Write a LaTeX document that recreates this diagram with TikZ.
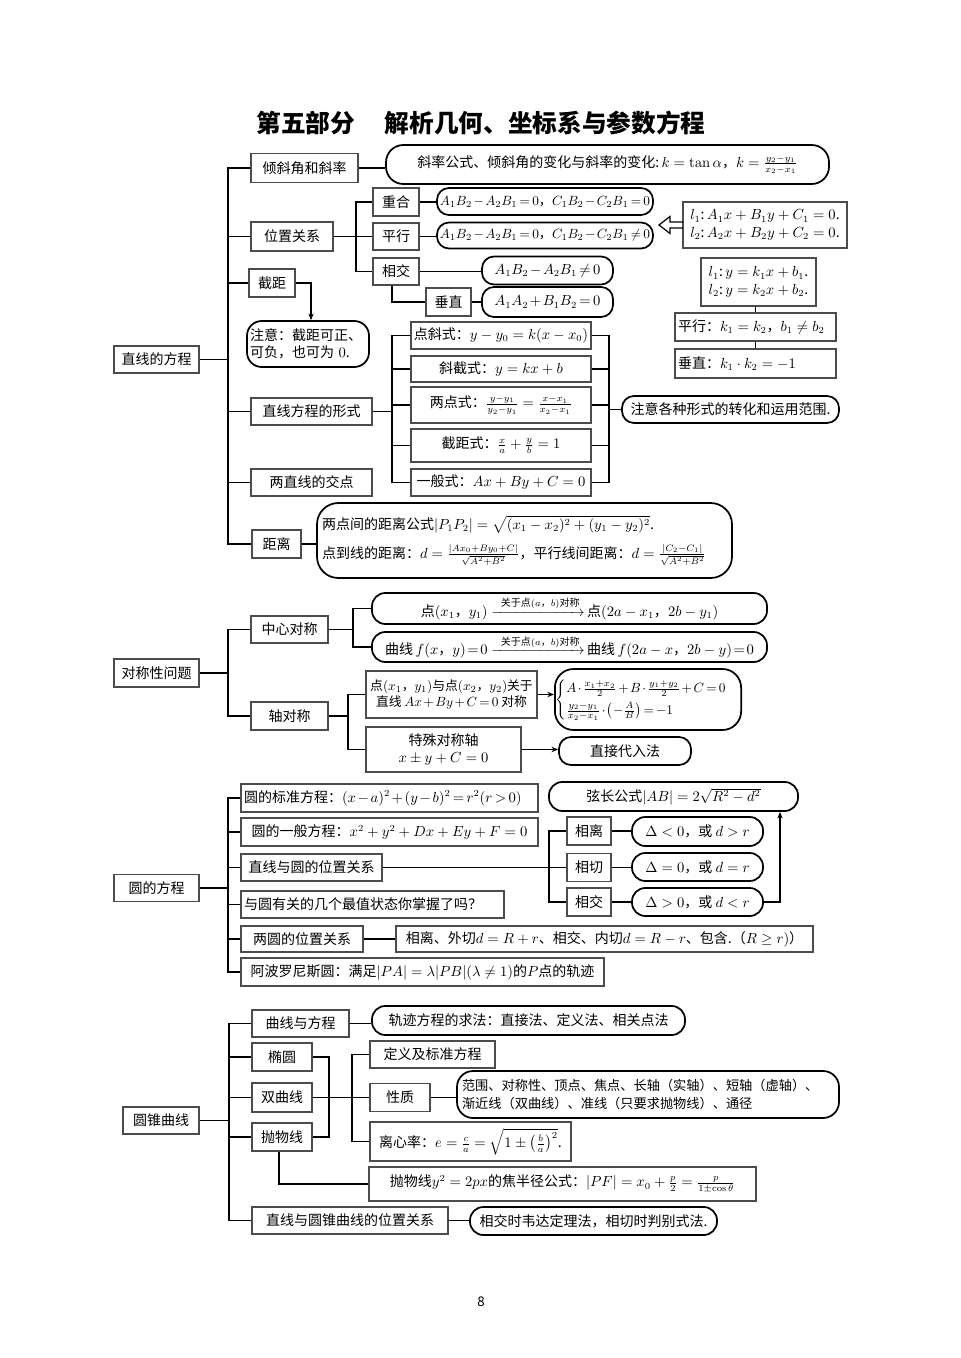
\documentclass[tikz,border=0pt]{standalone}
\usepackage{amsmath}
\usepackage[no-math]{fontspec}
\setmainfont{Noto Sans CJK SC}
\usetikzlibrary{arrows.meta}
\newcommand\fs{\fontsize{10.5}{13}\selectfont}
\newcommand\tm{\medmuskip=2mu plus 1mu\thickmuskip=3mu plus 2mu}
\newcommand\arrlab[1]{\xrightarrow{\hbox{\fontsize{7.5}{9}\selectfont #1}}}
\begin{document}
\begin{tikzpicture}[x=0.75pt,y=-0.75pt,
  every node/.style={font=\fs},
  wh/.style 2 args={minimum width=#1*0.75pt, minimum height=#2*0.75pt},
  sq/.style={draw=black!70, line width=0.8pt, inner sep=1.5pt},
  rd/.style={draw=black, line width=1.3pt, rounded corners=9pt, inner sep=1.5pt},
  lw/.style={text width=#1*0.75pt, align=left},
  ln/.style={line width=0.9pt},
  arr/.style={line width=0.9pt, -{Stealth[length=5pt,width=4pt]}}]
\fill[white] (0,0) rectangle (960,1358);
\useasboundingbox (0,0) rectangle (960,1358);

% title
\node[font=\fontsize{18.5}{22}\selectfont\bfseries] (title) at (481,123) {第五部分\hspace{1.2em}解析几何、坐标系与参数方程};

% ---------------- section 1
\node[sq,wh={85}{27}] (root1) at (156.5,359.5) {直线的方程};
\node[sq,wh={107}{29}] (qx) at (304.5,168) {倾斜角和斜率};
\node[rd,wh={443}{39},rounded corners=13pt] (qxf) at (607.5,164.5) {斜率公式、倾斜角的变化与斜率的变化:\,$k=\tan\alpha$，$k=\frac{y_2-y_1}{x_2-x_1}$};
\node[sq,wh={82}{29}] (wz) at (292,236.5) {位置关系};
\node[sq,wh={46}{28}] (ch) at (396,202) {重合};
\node[sq,wh={46}{27}] (pxg) at (396,236.5) {平行};
\node[sq,wh={46}{27}] (xj) at (396,271.5) {相交};
\node[sq,wh={45}{28}] (cz) at (448.5,302) {垂直};
\node[rd,wh={216}{27},font=\fontsize{9.8}{12}\selectfont\tm] (rch) at (545,201.5) {$A_1B_2-A_2B_1=0$，$C_1B_2-C_2B_1=0$};
\node[rd,wh={216}{26},font=\fontsize{9.8}{12}\selectfont\tm] (rpx) at (545,235.5) {$A_1B_2-A_2B_1=0$，$C_1B_2-C_2B_1\neq0$};
\node[rd,wh={131}{28},font=\fs\tm] (rxj) at (547.5,270.5) {$A_1B_2-A_2B_1\neq0$};
\node[rd,wh={131}{30},font=\fs\tm] (rcz) at (547.5,302) {$A_1A_2+B_1B_2=0$};
\node[sq,wh={164}{46},align=left] (lab) at (765,225) {$l_1$:\,$A_1x+B_1y+C_1=0$.\\$l_2$:\,$A_2x+B_2y+C_2=0$.};
\draw[line width=0.9pt] (683,222) -- (670,222) -- (670,216.5) -- (659,225) -- (670,233.5) -- (670,228) -- (683,228);
\node[sq,wh={115}{48},align=left] (kb) at (758.5,282) {$l_1$:\,$y=k_1x+b_1$.\\$l_2$:\,$y=k_2x+b_2$.};
\node[sq,wh={161}{28},lw=155] (kp) at (755.5,327) {平行：$k_1=k_2$，$b_1\neq b_2$};
\node[sq,wh={161}{29},lw=155] (kc) at (755.5,363.5) {垂直：$k_1\cdot k_2=-1$};
\node[sq,wh={46}{28}] (jj) at (272,283) {截距};
\node[rd,wh={122}{46},lw=116,rounded corners=11pt] (zy) at (308,344) {注意：截距可正、\\可负，也可为 $0$.};
\node[sq,wh={121}{27}] (xs) at (311.5,411.5) {直线方程的形式};
\node[sq,wh={180}{27}] (f1) at (501,335.5) {点斜式：$y-y_0=k(x-x_0)$};
\node[sq,wh={180}{26}] (f2) at (501,369) {斜截式：$y=kx+b$};
\node[sq,wh={180}{36}] (f3) at (501,405) {两点式：$\frac{y-y_1}{y_2-y_1}=\frac{x-x_1}{x_2-x_1}$};
\node[sq,wh={180}{33}] (f4) at (501,445.5) {截距式：$\frac{x}{a}+\frac{y}{b}=1$};
\node[sq,wh={180}{27}] (f5) at (501,482.5) {一般式：$Ax+By+C=0$};
\node[rd,wh={217}{27},inner sep=0.5pt] (zyx) at (730.5,409.5) {注意各种形式的转化和运用范围.};
\node[sq,wh={121}{27}] (jd) at (311.5,482.5) {两直线的交点};
\node[sq,wh={49}{28}] (jl) at (276.5,544) {距离};
\node[rd,wh={415}{75},lw=405,rounded corners=16pt] (rjl) at (524.5,540.5) {两点间的距离公式$|P_1P_2|=\sqrt{(x_1-x_2)^2+(y_1-y_2)^2}$.\\[7pt]点到线的距离：$d=\frac{|Ax_0+By_0+C|}{\sqrt{A^2+B^2}}$，平行线间距离：$d=\frac{|C_2-C_1|}{\sqrt{A^2+B^2}}$};

\coordinate (T1) at (228,0);
\draw[ln] (qx.west) -| (T1 |- jl.west) -- (jl.west);
\draw[ln] (root1.east) -- (root1.east -| T1);
\foreach \n in {wz,jj,xs,jd} \draw[ln] (\n.west) -- (\n.west -| T1);
\draw[ln] (qx.east) -- (qx.east -| qxf.west);
\coordinate (T2) at (356,0);
\draw[ln] (wz.east) -- (pxg.west);
\draw[ln] (ch.west) -| (T2 |- xj.west) -- (xj.west);
\draw[ln] (ch.east) -- (ch.east -| rch.west);
\draw[ln] (pxg.east) -- (pxg.east -| rpx.west);
\draw[ln] (xj.east) -- (xj.east -| rxj.west);
\draw[ln] (cz.east) -- (cz.east -| rcz.west);
\coordinate (T3) at (392,0);
\draw[ln] (xj.south -| T3) |- (cz.west);
\draw[ln] (kp.north) -- (kp.north |- kb.south);
\draw[ln] (kp.south) -- (kc.north);
\draw[arr] (jj.east) -| ([xshift=2.25pt]zy.north);
\draw[ln] (f1.west) -| (T3 |- f5.west) -- (f5.west);
\foreach \n in {f2,f3,f4} \draw[ln] (\n.west) -- (\n.west -| T3);
\draw[ln] (xs.east) -- (xs.east -| T3);
\coordinate (T5) at (609,0);
\draw[ln] (f1.east) -| (T5 |- f5.east) -- (f5.east);
\foreach \n in {f2,f3,f4} \draw[ln] (\n.east) -- (\n.east -| T5);
\draw[ln] (zyx.west) -- (zyx.west -| T5);
\draw[ln] (jl.east) -- (jl.east -| rjl.west);

% ---------------- section 2
\node[sq,wh={85}{28}] (root2) at (156.5,673) {对称性问题};
\node[sq,wh={77}{27}] (zx) at (289.5,629.5) {中心对称};
\node[sq,wh={77}{28}] (zd) at (289.5,716) {轴对称};
\node[rd,wh={395}{31},rounded corners=10pt] (s1) at (569.5,608.5) {点$(x_1$，$y_1)$\;$\arrlab{\hspace{0.6em}关于点$(a$，$b)$对称}$\,点$(2a-x_1$，$2b-y_1)$};
\node[rd,wh={395}{30},rounded corners=10pt] (s2) at (569.5,647) {曲线$\,f(x$，$y)\!=\!0$\;$\arrlab{\hspace{0.6em}关于点$(a$，$b)$对称}$\,曲线$\,f(2a-x$，$2b-y)\!=\!0$};
\node[sq,wh={171}{47},align=center,inner sep=0.5pt,font=\fontsize{9.6}{12.5}\selectfont\tm] (a1) at (451.5,694.5) {点$(x_1$，$y_1)$与点$(x_2$，$y_2)$关于\\直线 $Ax+By+C=0$ 对称};
\node[rd,wh={182}{61},rounded corners=14pt,inner sep=0.5pt,font=\fontsize{10}{12}\selectfont\tm] (a2) at (648,699.5) {$\begin{cases}A\cdot\frac{x_1+x_2}{2}+B\cdot\frac{y_1+y_2}{2}+C=0\\[2pt] \frac{y_2-y_1}{x_2-x_1}\cdot\left(-\frac{A}{B}\right)=-1\end{cases}$};
\node[sq,wh={155}{45},align=center] (b1) at (443.5,749.5) {特殊对称轴\\$x\pm y+C=0$};
\node[rd,wh={132}{28}] (b2) at (625,751) {直接代入法};

\coordinate (U1) at (228,0);
\draw[ln] (zx.west) -| (U1 |- zd.west) -- (zd.west);
\draw[ln] (root2.east) -- (root2.east -| U1);
\coordinate (U2) at (353,0);
\draw[ln] (s1.west) -| (U2 |- s2.west) -- (s2.west);
\draw[ln] (zx.east) -- (zx.east -| U2);
\coordinate (U3) at (348,0);
\draw[ln] (a1.west) -| (U3 |- b1.west) -- (b1.west);
\draw[ln] (zd.east) -- (zd.east -| U3);
\draw[arr] (a1.east) -- (a1.east -| a2.west);
\draw[arr] (b1.east) -- (b1.east -| b2.west);

% ---------------- section 3
\node[sq,wh={85}{27}] (root3) at (156.5,888) {圆的方程};
\node[sq,wh={297}{28},lw=291,font=\fs\tm] (c1) at (389.5,798) {圆的标准方程：$(x-a)^2+(y-b)^2=r^2(r>0)$};
\node[sq,wh={297}{28}] (c2) at (389.5,832) {圆的一般方程：$x^2+y^2+Dx+Ey+F=0$};
\node[sq,wh={141}{27}] (c3) at (311.5,867.5) {直线与圆的位置关系};
\node[sq,wh={263}{27},lw=257] (c4) at (372.5,904.5) {与圆有关的几个最值状态你掌握了吗？};
\node[sq,wh={122}{26}] (c5) at (302,939) {两圆的位置关系};
\node[sq,wh={417}{26}] (c5r) at (604.5,939) {相离、外切$d=R+r$、相交、内切$d=R-r$、包含.（$R\geq r)$）};
\node[sq,wh={363}{28}] (c6) at (422.5,972) {阿波罗尼斯圆：满足$|PA|=\lambda|PB|(\lambda\neq1)$的$P$点的轨迹};
\node[rd,wh={249}{29},rounded corners=10pt] (xc) at (673.5,796.5) {弦长公式$|AB|=2\sqrt{R^2-d^2}$};
\node[sq,wh={44}{28}] (xl) at (589,831) {相离};
\node[sq,wh={44}{28}] (xq) at (589,867.5) {相切};
\node[sq,wh={44}{28}] (xj2) at (589,902) {相交};
\node[rd,wh={131}{29},rounded corners=10pt] (dl) at (697.5,831.5) {$\Delta<0$，或 $d>r$};
\node[rd,wh={131}{28},rounded corners=10pt] (dq) at (697.5,867) {$\Delta=0$，或 $d=r$};
\node[rd,wh={131}{28},rounded corners=10pt] (dj) at (697.5,902) {$\Delta>0$，或 $d<r$};

\coordinate (V1) at (228,0);
\draw[ln] (c1.west) -| (V1 |- c6.west) -- (c6.west);
\foreach \n in {c2,c3,c4,c5} \draw[ln] (\n.west) -- (\n.west -| V1);
\draw[ln] (root3.east) -- (root3.east -| V1);
\coordinate (V2) at (549,0);
\draw[ln] (xl.west) -| (V2 |- xj2.west) -- (xj2.west);
\draw[ln] (c3.east) -- (c3.east -| V2);
\draw[ln] (xq.west) -- (xq.west -| V2);
\draw[ln] (xl.east) -- (xl.east -| dl.west);
\draw[ln] (xq.east) -- (xq.east -| dq.west);
\draw[ln] (xj2.east) -- (xj2.east -| dj.west);
\draw[ln] (c5.east) -- (c5.east -| c5r.west);
\coordinate (V3) at (780,0);
\draw[arr] (dj.east) -| (V3 |- xc.south);

% ---------------- section 4
\node[sq,wh={76}{27}] (root4) at (161,1120.5) {圆锥曲线};
\node[sq,wh={97}{27}] (q1) at (300.5,1023.5) {曲线与方程};
\node[rd,wh={313}{29},rounded corners=10pt] (q1r) at (528.5,1020.5) {轨迹方程的求法：直接法、定义法、相关点法};
\node[sq,wh={60}{28}] (e1) at (282,1057) {椭圆};
\node[sq,wh={60}{29}] (e2) at (282,1097.5) {双曲线};
\node[sq,wh={60}{28}] (e3) at (282,1137) {抛物线};
\node[sq,wh={125}{27}] (d1) at (432.5,1054.5) {定义及标准方程};
\node[sq,wh={60}{28}] (d2) at (400,1097.5) {性质};
\node[rd,wh={382}{47},lw=372,inner sep=2pt,rounded corners=12pt,font=\fontsize{9.9}{13}\selectfont] (d2r) at (648,1094.5) {范围、对称性、顶点、焦点、长轴（实轴）、短轴（虚轴）、\\渐近线（双曲线）、准线（只要求抛物线）、通径};
\node[sq,wh={201}{39}] (d3) at (470.5,1141.5) {离心率：$e=\frac{c}{a}=\sqrt{1\pm\left(\frac{b}{a}\right)^2}$.};
\node[sq,wh={387}{34}] (p1) at (562.5,1184) {抛物线$y^2=2px$的焦半径公式：$|PF|=x_0+\frac{p}{2}=\frac{p}{1\pm\cos\theta}$};
\node[sq,wh={196}{27}] (q5) at (350,1220.5) {直线与圆锥曲线的位置关系};
\node[rd,wh={247}{28},rounded corners=10pt] (q5r) at (593.5,1221) {相交时韦达定理法，相切时判别式法.};

\coordinate (W1) at (229,0);
\draw[ln] (q1.west) -| (W1 |- q5.west) -- (q5.west);
\foreach \n in {e1,e2,e3} \draw[ln] (\n.west) -- (\n.west -| W1);
\draw[ln] (root4.east) -- (root4.east -| W1);
\draw[ln] (q1.east) -- (q1.east -| q1r.west);
\coordinate (W2) at (329,0);
\draw[ln] (e1.east) -| (W2 |- e3.east) -- (e3.east);
\draw[ln] (e2.east) -- (d2.west);
\coordinate (W3) at (352,0);
\draw[ln] (d1.west) -| (W3 |- d3.west) -- (d3.west);
\draw[ln] (d2.east) -- (d2.east -| d2r.west);
\coordinate (W4) at (279,0);
\draw[ln] (e3.south -| W4) |- (p1.west);
\draw[ln] (q5.east) -- (q5.east -| q5r.west);

\node[font=\fontsize{10}{12}\selectfont] (pg) at (481,1302) {8};
\end{tikzpicture}
\end{document}
